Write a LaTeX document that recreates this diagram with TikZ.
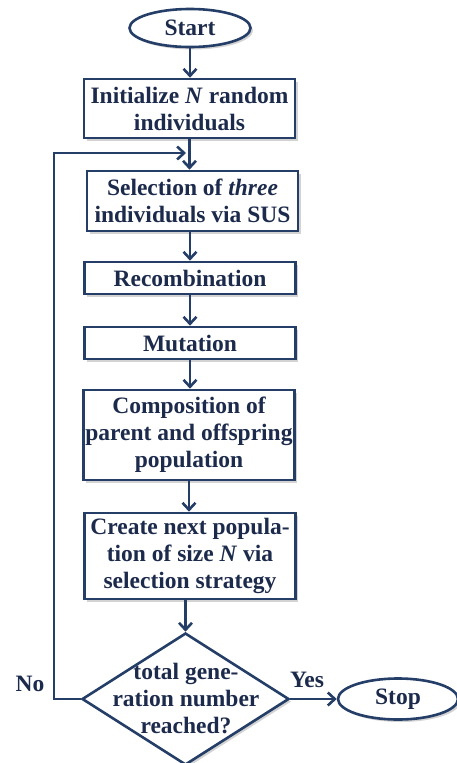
\documentclass[tikz,border=0pt]{standalone}
\usepackage{fontspec}
\setmainfont{Liberation Serif}
\usetikzlibrary{shapes.geometric,shadows,arrows.meta}
\definecolor{navytext}{RGB}{28,42,76}
\definecolor{navyline}{RGB}{36,62,104}
\tikzset{
  base/.style={draw=navyline, line width=2.6pt, fill=white, text=navytext,
    font=\fontsize{23.5}{27}\selectfont\bfseries, align=center, inner sep=0pt,
    drop shadow={opacity=0.35, shadow xshift=2.5pt, shadow yshift=-2.5pt}},
  procbox/.style={base, rectangle, minimum width=211pt},
  terminal/.style={base, ellipse, minimum width=121pt, minimum height=38pt},
  decision/.style={base, diamond, minimum width=207pt, minimum height=132pt},
  txt/.style={text=navytext, font=\fontsize{23.5}{27}\selectfont\bfseries, align=center, inner sep=0pt},
  flow/.style={draw=navyline, line width=2.6pt, -{Straight Barb[length=7pt,width=13pt,line width=2.6pt]}},
}
\begin{document}
\begin{tikzpicture}[x=1pt,y=-1pt]
\useasboundingbox (0,0) rectangle (456,763);
\node[terminal] (start) at (190,28) {Start};
\node[procbox, minimum height=59pt] (init) at (189.5,108.5) {Initialize \textit{N} random\\individuals};
\node[procbox, minimum height=60pt] (sel) at (192.5,201) {Selection of \textit{three}\\individuals via SUS};
\node[procbox, minimum height=32pt] (rec) at (190,278) {Recombination};
\node[procbox, minimum height=32pt] (mut) at (190,343) {Mutation};
\node[procbox, minimum height=90pt] (comp) at (189,435) {Composition of\\parent and offspring\\population};
\node[procbox, minimum height=86pt] (create) at (190,556) {Create next popula-\\tion of size \textit{N} via\\selection strategy};
\node[decision] (dec) at (185.5,699) {};
\node[txt] (dectxt) at (186,699) {total gene-\\ration number\\reached?};
\node[terminal, minimum width=120pt, minimum height=41pt] (stop) at (398,699) {Stop};
\node[txt] (no) at (30,684) {No};
\node[txt] (yes) at (307,680) {Yes};
\coordinate (loopa) at (54,699);
\coordinate (loopb) at (54,153);
\coordinate (loopc) at (186,153);

\draw[flow] (start.south) -- (start.south |- init.north);
\draw[flow] (init.south) -- (init.south |- sel.north);
\draw[flow] (rec.north |- sel.south) -- (rec.north);
\draw[flow] (rec.south) -- (mut.north);
\draw[flow] (mut.south) -- (mut.south |- comp.north);
\draw[flow] (comp.south) -- (comp.south |- create.north);
\draw[flow] (create.south -| dec.north) -- (dec.north);
\draw[flow] (dec.east) -- (stop.west);
\draw[flow] (dec.west) -- (loopa) -- (loopb) -- (loopc);
\end{tikzpicture}
\end{document}
